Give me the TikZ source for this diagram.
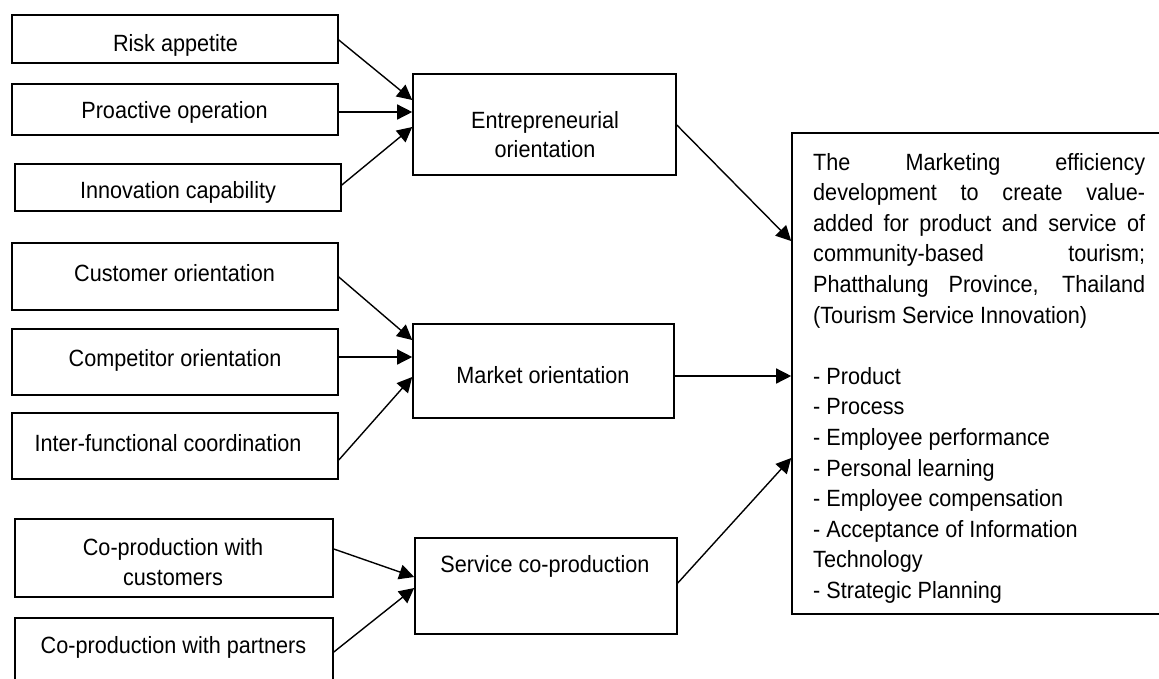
\documentclass[tikz,border=0pt]{standalone}
\usepackage{fontspec}
\setmainfont[FakeStretch=0.92]{Liberation Sans}
\usetikzlibrary{arrows.meta,calc}
\begin{document}
\begin{tikzpicture}[x=1pt,y=-1pt,
  box/.style={draw, line width=1.6pt, inner sep=0pt},
  lbl/.style={font=\fontsize{23.5}{30.6}\selectfont, anchor=base, inner sep=0pt},
  lblw/.style={font=\fontsize{23.5}{30.6}\selectfont, anchor=base west, inner sep=0pt},
  arr/.style={line width=1.4pt, -{Triangle[length=15pt,width=15pt]}}]
\clip (0,0) rectangle (1159,678);
\fill[white] (0,0) rectangle (1159,678);
% left boxes
\node[box, minimum width=326pt, minimum height=48pt] (ra) at (175,39) {};
\node[box, minimum width=326pt, minimum height=51pt] (po) at (175,109.5) {};
\node[box, minimum width=326pt, minimum height=47pt] (ic) at (178,187.5) {};
\node[box, minimum width=326pt, minimum height=67pt] (co) at (175,276.5) {};
\node[box, minimum width=326pt, minimum height=66pt] (cp) at (175,362) {};
\node[box, minimum width=326pt, minimum height=66pt] (if) at (175,446) {};
\node[box, minimum width=318pt, minimum height=78pt] (pc) at (174,558) {};
\node[box, minimum width=318pt, minimum height=82pt] (pp) at (174,659) {};
% middle boxes
\node[box, minimum width=263pt, minimum height=101pt] (eo) at (544.5,124.5) {};
\node[box, minimum width=261pt, minimum height=94pt] (mo) at (543.5,371) {};
\node[box, minimum width=262pt, minimum height=96pt] (sc) at (546,586) {};
% right box
\node[box, minimum width=388pt, minimum height=481pt] (out) at (986,373.5) {};
% labels
\node[lbl] (tra) at (175.5,51) {Risk appetite};
\node[lbl] (tpo) at (174.5,118) {Proactive operation};
\node[lbl] (tic) at (178,198) {Innovation capability};
\node[lbl] (tco) at (174.5,281) {Customer orientation};
\node[lbl] (tcp) at (175,366) {Competitor orientation};
\node[lbl] (tif) at (168,451) {Inter-functional coordination};
\node[lbl] (tpc1) at (173,555) {Co-production with};
\node[lbl] (tpc2) at (173,585) {customers};
\node[lbl] (tpp) at (173.5,653) {Co-production with partners};
\node[lbl] (teo1) at (545,128) {Entrepreneurial};
\node[lbl] (teo2) at (545,157) {orientation};
\node[lbl] (tmo) at (543,383) {Market orientation};
\node[lbl] (tsc) at (545,572) {Service co-production};
% right box text
\node[lblw] (r1) at (813,170) {\makebox[332pt][s]{The Marketing efficiency}};
\node[lblw] (r2) at (813,200.6) {\makebox[332pt][s]{development to create value-}};
\node[lblw] (r3) at (813,231.2) {\makebox[332pt][s]{added for product and service of}};
\node[lblw] (r4) at (813,261.8) {\makebox[332pt][s]{community-based tourism;}};
\node[lblw] (r5) at (813,292.4) {\makebox[332pt][s]{Phatthalung Province, Thailand}};
\node[lblw] (r6) at (813,323) {(Tourism Service Innovation)};
\node[lblw] (r7) at (813,384.2) {- Product};
\node[lblw] (r8) at (813,414.8) {- Process};
\node[lblw] (r9) at (813,445.4) {- Employee performance};
\node[lblw] (r10) at (813,476) {- Personal learning};
\node[lblw] (r11) at (813,506.6) {- Employee compensation};
\node[lblw] (r12) at (813,537.2) {- Acceptance of Information};
\node[lblw] (r13) at (813,567.8) {Technology};
\node[lblw] (r14) at (813,598.4) {- Strategic Planning};
% arrows
\draw[arr] ($(ra.east)+(0,1)$) -- ($(eo.west)+(0,-24.5)$);
\draw[arr] ($(po.east)+(0,2.5)$) -- ($(eo.west)+(0,-12.5)$);
\draw[arr] ($(ic.east)+(0,-2.5)$) -- ($(eo.west)+(0,2.5)$);
\draw[arr] ($(co.east)+(0,0.5)$) -- ($(mo.west)+(0,-31)$);
\draw[arr] ($(cp.east)+(0,-5)$) -- ($(mo.west)+(0,-14)$);
\draw[arr] ($(if.east)+(0,14)$) -- ($(mo.west)+(0,6)$);
\draw[arr] ($(pc.east)+(0,-9)$) -- ($(sc.west)+(0,-9)$);
\draw[arr] ($(pp.east)+(0,-7)$) -- ($(sc.west)+(0,2)$);
\draw[arr] ($(eo.east)+(0,0.5)$) -- ($(out.west)+(0,-132.5)$);
\draw[arr] ($(mo.east)+(0,5)$) -- ($(out.west)+(0,2.5)$);
\draw[arr] ($(sc.east)+(0,-3)$) -- ($(out.west)+(0,84.5)$);
\end{tikzpicture}
\end{document}
